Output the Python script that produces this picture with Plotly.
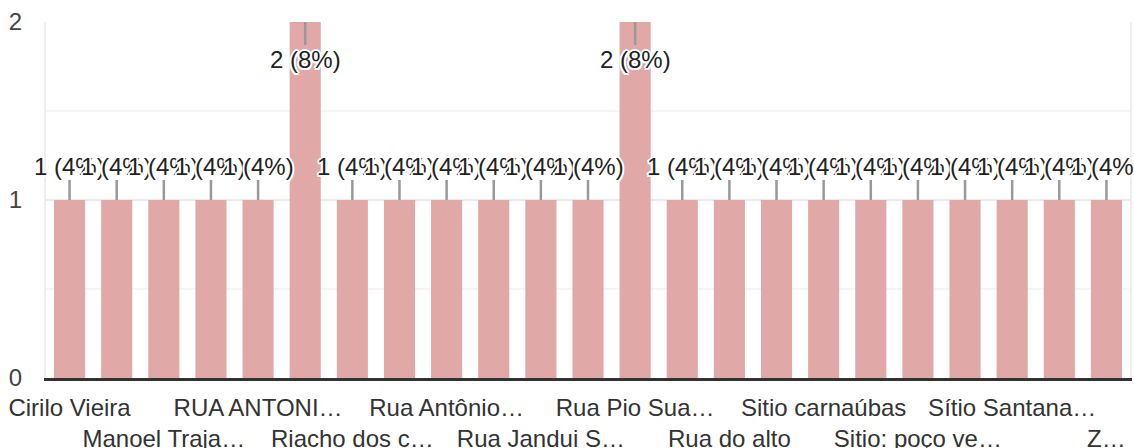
import plotly.graph_objects as go

# Categories (alphabetical, as in the source); only every other label is shown on the axis
categories = [
    "Cirilo Vieira", "Comunidade 2", "Manoel Traja…", "Povoado 4", "RUA ANTONI…",
    "RUA JOSÉ 6", "Riacho dos c…", "Rua 8", "Rua Antônio…", "Rua B 10",
    "Rua Jandui S…", "Rua M 12", "Rua Pio Sua…", "Rua S 14", "Rua do alto",
    "Sitio 16", "Sitio carnaúbas", "Sitio p 18", "Sitio: poço ve…", "Sítio 20",
    "Sítio Santana…", "Sítio V 22", "Z…",
]
values = [1, 1, 1, 1, 1, 2, 1, 1, 1, 1, 1, 1, 2, 1, 1, 1, 1, 1, 1, 1, 1, 1, 1]
shown_idx = list(range(0, len(categories), 2))
y_ticks = [0, 1, 2]

total = sum(values)
bar_color = "#e0a8a7"
FONT = "Liberation Sans, Arial, sans-serif"

fig = go.Figure()
fig.add_trace(go.Bar(
    x=categories, y=values, marker=dict(color=bar_color, line=dict(width=0)),
    hoverinfo="skip",
))

halo = ("2px 0 0 #fff, -2px 0 0 #fff, 0 2px 0 #fff, 0 -2px 0 #fff, "
        "1.5px 1.5px 0 #fff, -1.5px -1.5px 0 #fff, 1.5px -1.5px 0 #fff, -1.5px 1.5px 0 #fff")

ymax = max(values)
annotations = []
for c, v in zip(categories, values):
    txt = f"{v} ({round(100 * v / total)}%)"
    annotations.append(dict(
        x=c, y=v, xref="x", yref="y", text=txt,
        showarrow=True, arrowhead=0, arrowwidth=2.5, arrowcolor="#999999",
        ax=0, ay=(37 if v >= ymax else -34),
        font=dict(family=FONT, size=24, color="#222222", shadow=halo),
        borderpad=0,
    ))

ticktext = []
for k, i in enumerate(shown_idx):
    ticktext.append(categories[i] if k % 2 == 0 else "<br>" + categories[i])

fig.update_layout(
    width=1134, height=448,
    margin=dict(l=46, r=4, t=22, b=70),
    paper_bgcolor="white", plot_bgcolor="white",
    bargap=0.34, showlegend=False,
    annotations=annotations,
    font=dict(family=FONT, size=24, color="#333333"),
    xaxis=dict(
        type="category", range=[-0.5, len(categories) - 0.5],
        tickvals=[categories[i] for i in shown_idx], ticktext=ticktext,
        tickangle=0, showgrid=False, showline=True, linecolor="#333333", linewidth=3,
        ticks="", tickfont=dict(family=FONT, size=24, color="#333333"),
        ticklabelstandoff=6,
        automargin=False,
    ),
    yaxis=dict(
        range=[0, 2], tickvals=y_ticks, showgrid=True, gridcolor="#ebebeb", gridwidth=2,
        zeroline=False, showline=True, mirror=True, linecolor="#eeeeee", linewidth=2,
        ticks="", tickfont=dict(family=FONT, size=24, color="#444444"),
        ticklabelstandoff=17,
        minor=dict(dtick=0.5, showgrid=True, gridcolor="#f5f5f5", gridwidth=2),
        automargin=False,
    ),
)

fig.write_html(
    "out.html",
    config={"displayModeBar": False},
    post_script="document.body.style.margin='0';document.body.style.overflow='hidden';",
)
